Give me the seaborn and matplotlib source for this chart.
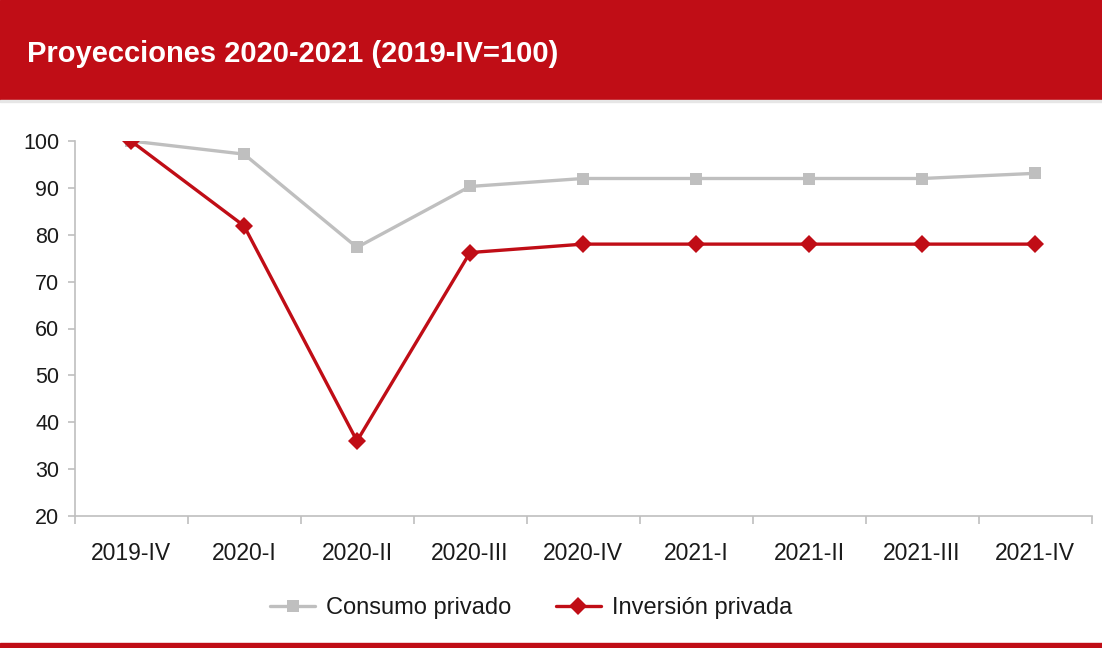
import matplotlib
matplotlib.use("Agg")
import matplotlib.pyplot as plt
from matplotlib import font_manager
from matplotlib.patches import Rectangle
from matplotlib.ticker import FixedLocator, NullFormatter
import seaborn as sns
import pandas as pd

# Quarterly index values, base 2019-IV = 100
quarters = ["2019-IV", "2020-I", "2020-II", "2020-III", "2020-IV",
            "2021-I", "2021-II", "2021-III", "2021-IV"]
consumo_privado = [100, 97.2, 77.3, 90.3, 92, 92, 92, 92, 93.1]
inversion_privada = [100, 81.9, 36, 76.2, 78, 78, 78, 78, 78]
series_names = ["Consumo privado", "Inversión privada"]
y_ticks = [20, 30, 40, 50, 60, 70, 80, 90, 100]
title = "Proyecciones 2020-2021 (2019-IV=100)"

RED = "#C00D16"
GRAY = "#BFBFBF"

sns.set_theme(style="white")


def pick_font(names):
    for n in names:
        try:
            font_manager.findfont(font_manager.FontProperties(family=n),
                                  fallback_to_default=False)
            return n
        except Exception:
            continue
    return "DejaVu Sans"


base_font = pick_font(["Liberation Sans Narrow", "Liberation Sans", "Arial"])
plt.rcParams["font.family"] = [base_font, "DejaVu Sans"]

df = pd.DataFrame({
    "trimestre": quarters * 2,
    "valor": consumo_privado + inversion_privada,
    "serie": [series_names[0]] * len(quarters) + [series_names[1]] * len(quarters),
})

fig = plt.figure(figsize=(11.02, 6.48), dpi=100)
fig.patch.set_facecolor("white")

# Header band with title
fig.patches.append(Rectangle((0, 1 - 100 / 648), 1, 100 / 648,
                             transform=fig.transFigure, color=RED, zorder=0))
fig.patches.append(Rectangle((0, 1 - 102 / 648), 1, 2 / 648,
                             transform=fig.transFigure, color="#E6E6E6", zorder=0))
fig.text(27 / 1102, 1 - 54 / 648, title, color="white", fontsize=21,
         fontweight="bold", va="center", ha="left")

# Bottom rule
fig.patches.append(Rectangle((0, 0), 1, 5 / 648,
                             transform=fig.transFigure, color=RED, zorder=0))

ax = fig.add_axes([74.5 / 1102, 1 - 516 / 648, (1091.5 - 74.5) / 1102, (516 - 141) / 648])

sns.lineplot(data=df, x="trimestre", y="valor", hue="serie", style="serie",
             markers={series_names[0]: "s", series_names[1]: "D"},
             dashes=False, palette={series_names[0]: GRAY, series_names[1]: RED},
             linewidth=2.4, markersize=9, markeredgewidth=0, ax=ax, sort=False)

ax.set_xlim(-0.5, len(quarters) - 0.5)
ax.set_ylim(20, 100)
ax.set_yticks(y_ticks)
ax.set_xlabel("")
ax.set_ylabel("")

for s in ["top", "right"]:
    ax.spines[s].set_visible(False)
for s in ["left", "bottom"]:
    ax.spines[s].set_color("#BFBFBF")
    ax.spines[s].set_linewidth(1.2)

ax.tick_params(axis="y", which="major", left=True, length=5, width=1.2,
               color="#BFBFBF", labelsize=15.5, labelcolor="#1a1a1a", pad=6)
ax.tick_params(axis="x", which="major", bottom=False, labelsize=16.5,
               labelcolor="#1a1a1a", pad=13)
ax.xaxis.set_minor_locator(FixedLocator([i - 0.5 for i in range(len(quarters) + 1)]))
ax.xaxis.set_minor_formatter(NullFormatter())
ax.tick_params(axis="x", which="minor", bottom=True, length=6, width=1.2,
               color="#BFBFBF")
ax.grid(False)

leg = ax.legend(loc="center", bbox_to_anchor=(0.449, -0.245), ncol=2, frameon=False,
                fontsize=17, handlelength=1.9, columnspacing=1.9, handletextpad=0.45)
for t in leg.get_texts():
    t.set_color("#1a1a1a")

fig.savefig("out.png", dpi=100, facecolor="white")
